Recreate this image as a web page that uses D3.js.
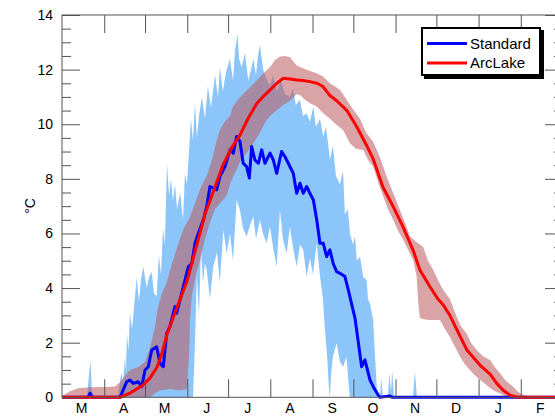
<!DOCTYPE html>
<html>
<head>
<meta charset="utf-8">
<script src="https://cdn.jsdelivr.net/npm/d3@7"></script>
<style>
html,body{margin:0;padding:0;background:#fff;}
svg{display:block;font-family:"Liberation Sans",Arial,Helvetica,sans-serif;}
</style>
</head>
<body>
<svg id="chart" width="555" height="418"></svg>
<script>
// ---- data (x in days since 1 March) ----
const monthLabels = ["M","A","M","J","J","A","S","O","N","D","J","F"];
const monthTickDays = [31,61,92,122,153,184,214,245,275,306,337];
const monthLabelDays = [14,45,75,106,136,167,198,228,259,289,320,351];
const yMajorTicks = [0,2,4,6,8,10,12,14];
const yMinorTicks = [0.5,1,1.5,2.5,3,3.5,4.5,5,5.5,6.5,7,7.5,8.5,9,9.5,10.5,11,11.5,12.5,13,13.5];
const seriesNames = ["Standard","ArcLake"];

const standardLine = [[0,0],[19.1,0],[20.6,0.15],[22,0],[42.6,0],[45,0.27],[47.5,0.57],[49.9,0.63],[52.4,0.51],[56,0.57],[58.5,0.39],[61,1.0],[63.4,1.12],[65.9,1.73],[69.5,1.85],[72,1.25],[74.4,1.12],[76.9,2.34],[79.3,2.59],[83,3.32],[84.2,3.08],[87.9,3.81],[92.8,4.78],[95.3,4.9],[97.7,5.64],[100.1,6.0],[103.8,6.5],[106.3,6.98],[108.7,7.72],[113.6,7.6],[116,8.08],[119.7,8.45],[123.4,9.06],[125.8,8.94],[128.3,9.55],[130.7,9.37],[133.1,8.57],[135.6,8.45],[137.6,8.03],[139.3,9.18],[141.7,8.69],[144.2,8.57],[146.7,9.06],[149.1,8.57],[152.8,8.94],[155.2,8.69],[157.7,8.2],[161.3,9.0],[163.8,8.81],[166.2,8.57],[169.9,8.2],[172.4,7.47],[174.8,7.84],[177.2,7.47],[179.7,7.72],[182.1,7.47],[184.6,7.23],[187.1,6.5],[189.5,5.64],[191.9,5.64],[194.4,5.15],[196.8,5.4],[199.2,4.9],[201.7,4.6],[204.2,4.54],[207.8,4.42],[210.3,3.93],[212.8,3.4],[215.2,2.9],[216.4,2.47],[220.1,1.12],[222.5,1.37],[226.2,0.64],[228.6,0.39],[232.3,0.08],[233.5,0],[240.9,0.05],[242.4,0],[368,0]];

const arcLakeLine = [[0,0],[42.6,0],[49.9,0.15],[59.5,0.45],[64.6,0.7],[69.8,1.1],[73.4,1.6],[77.1,2.3],[83,3.1],[91.8,4.25],[99.1,5.6],[105,6.7],[108.7,7.2],[113.1,7.8],[118.2,8.5],[124.1,9.1],[130.7,9.6],[136.6,10.2],[143.2,10.77],[147.6,11.0],[152.8,11.26],[157.9,11.5],[162.3,11.68],[167.4,11.66],[172.6,11.62],[177,11.6],[182.1,11.56],[187.3,11.5],[191.7,11.38],[196.8,11.05],[202,10.85],[209.3,10.5],[216.6,9.9],[224,9.2],[228.4,8.75],[235.7,7.7],[243.1,7.0],[250.4,6.25],[257.8,5.4],[262.9,4.66],[270.3,4.05],[276.1,3.6],[279.8,3.4],[284.9,3.0],[290.8,2.4],[297.4,1.73],[307,1.18],[314.4,0.85],[319.5,0.5],[323.9,0.27],[329,0.08],[334.2,0],[368,0]];

const standardUpper = [[0,0],[18.4,0],[19.8,0.8],[20.9,1.35],[22,0.2],[24.2,0],[41.1,0],[42.6,0.6],[43.8,0.9],[44.8,0.5],[46.3,1.5],[47,0.9],[47.7,2.35],[48.8,1.7],[49.9,3.1],[51.4,2.5],[52.9,3.3],[54.9,4.4],[56.5,3.5],[58,4.3],[59.7,4.8],[62.2,4.0],[63.9,4.4],[65.9,4.6],[67.6,3.8],[69.5,3.7],[71.2,5.2],[72.7,4.5],[74.2,6.2],[75.6,5.6],[77.1,8.6],[78.6,7.4],[80,8.0],[81.5,7.2],[83,7.8],[84.5,6.9],[86.7,7.5],[88.9,6.5],[90.3,8.2],[91.8,7.8],[93.3,9.0],[94.7,10.2],[96.2,9.4],[97.7,10.8],[99.1,9.5],[100.6,10.3],[102.8,11.0],[105,10.2],[107.2,11.4],[109.4,10.6],[112.4,11.8],[114.6,11.0],[116,12.1],[118.2,11.2],[120.4,11.9],[123.4,12.4],[125.6,11.6],[127.1,12.7],[129,13.3],[130,12.4],[132,12.1],[134.4,12.6],[136.8,11.6],[138.8,12.0],[140.5,12.4],[142.5,11.8],[143.9,12.5],[145.4,12.9],[147.8,12.0],[149.8,11.7],[152.8,11.4],[155,11.8],[157.9,11.2],[160.8,11.6],[163.8,11.1],[167.4,11.0],[169.6,11.3],[171.8,10.7],[174.8,10.9],[177,10.3],[179.7,10.4],[182.1,10.1],[184.6,10.65],[186.5,9.9],[189.5,10.2],[191.9,9.55],[193.9,9.9],[196.8,8.7],[199,9.2],[201.2,8.1],[204.2,7.8],[206.4,8.3],[207.8,6.7],[210,6.9],[211.5,6.0],[213.7,5.6],[215.2,5.9],[216.6,5.0],[218.9,5.15],[221.3,4.4],[223.8,4.3],[224.7,3.6],[226.2,3.44],[228.6,2.8],[229.9,1.5],[231.3,0.3],[232.1,0],[233.5,0],[234.6,0.7],[235.7,0],[239.4,0],[240.5,0.9],[241.6,0.2],[242.6,0.95],[243.8,0],[257.8,0],[259.2,0.95],[260.7,0],[368,0]];

const standardLower = [[0,0],[96.2,0],[97.7,2.0],[99.1,4.5],[100.6,3.0],[102.1,5.5],[103.5,4.2],[105,4.9],[106.3,4.66],[108.7,3.6],[111.1,4.78],[113.8,5.3],[116,4.2],[118.5,6.13],[121,5.27],[123.4,6.0],[125.6,5.0],[128.3,7.23],[130.7,6.86],[132.9,6.2],[135.6,5.89],[138.1,6.3],[140.5,6.62],[142.5,5.8],[145.4,6.5],[147.6,6.0],[150.3,5.64],[152.8,6.25],[155,5.5],[157.7,4.78],[160.1,6.86],[162.3,5.8],[165,5.27],[167.4,6.25],[169.6,5.5],[172.4,4.78],[174.8,5.6],[177.2,5.4],[179.7,4.42],[182.1,5.1],[184.3,4.5],[187.1,5.64],[189.5,4.42],[191.7,3.6],[193.1,2.5],[194.6,1.6],[196.1,0.3],[196.8,0],[197.6,0.8],[199,1.5],[201.7,1.98],[204.2,1.3],[206.5,1.12],[209,1.49],[210.7,0.4],[211.5,0],[368,0]];

const arcLakeUpper = [[0,0.05],[5.9,0.22],[11.8,0.33],[20.6,0.37],[31.6,0.38],[38.9,0.4],[42.6,0.55],[46.3,0.8],[49.9,1.0],[55.8,1.1],[61,1.3],[64.6,1.8],[68.3,2.6],[70.5,3.3],[73.4,3.8],[76.9,4.2],[80.8,4.9],[85.2,5.6],[89.6,6.2],[94,6.6],[98.4,7.2],[102.1,7.7],[106.3,8.1],[110.2,8.7],[113.1,9.3],[116,9.8],[119.7,10.1],[123.4,10.3],[125.6,10.65],[129.3,10.9],[132.9,11.1],[138.1,11.35],[143,11.6],[147.6,11.85],[152.8,12.1],[156.5,12.35],[160.1,12.48],[163.8,12.5],[167.4,12.45],[172.4,12.15],[177,12.05],[182.1,11.95],[187.1,11.87],[191.7,11.75],[196.8,11.5],[204.2,11.26],[209.1,10.9],[213.7,10.55],[218.9,10.2],[223.3,9.7],[228.6,9.35],[233.5,8.8],[238.5,8.08],[243.1,7.5],[248.2,6.86],[251.9,6.4],[255.6,5.9],[260,5.7],[265.3,5.5],[268.8,5.0],[272.7,4.66],[276.1,4.3],[280,3.93],[284.9,3.6],[289.9,2.95],[293,2.6],[297.2,2.34],[300.4,2.0],[304.6,1.73],[309.2,1.5],[314.4,1.37],[318,1.1],[321.7,0.88],[326.1,0.6],[331.4,0.39],[334.9,0.2],[338.8,0.08],[343.8,0.03],[348.1,0],[368,0]];

const arcLakeLower = [[0,0],[64.6,0],[68.3,0.15],[72,0.25],[79.3,0.3],[86.7,0.25],[91.8,0.3],[93.3,1.5],[94,2.8],[95.3,3.7],[98.9,4.6],[101.3,5.0],[105,5.8],[108.7,6.4],[112.4,6.9],[116,7.1],[121,7.4],[124.1,7.9],[128.3,8.35],[131.5,8.7],[135.6,8.95],[140.5,9.3],[145.4,9.7],[150.3,10.16],[155,10.4],[160.1,10.6],[163.8,10.75],[167.4,10.85],[172.4,11.1],[174.8,11.07],[178.5,10.9],[182.1,10.77],[187.1,10.65],[191.9,10.4],[196.8,10.2],[201.2,10.0],[206.5,9.79],[211.5,9.3],[215.9,9.1],[221.3,9.06],[224.7,8.7],[228.6,8.45],[232.1,7.9],[236,7.35],[239.4,6.9],[243.3,6.5],[246.8,6.1],[250.7,5.76],[254.2,5.4],[258,5.03],[260.5,4.42],[261.7,3.44],[262.9,2.9],[266.6,2.85],[270.3,2.83],[277.6,2.83],[281.3,2.5],[284.9,2.22],[288.6,1.85],[292.3,1.49],[296,1.2],[299.6,1.0],[303.3,0.8],[307,0.64],[310.7,0.5],[314.4,0.34],[318,0.22],[321.7,0.15],[326.6,0],[368,0]];

// ---- drawing ----
const svg = d3.select("#chart");
const padL = 62, padR = 563, padT = 15, padB = 397.3;
const x = d3.scaleLinear().domain([0, 368]).range([padL, padR]);
const y = d3.scaleLinear().domain([0, 14]).range([padB, padT]);
const axisColor = "#555";

const line = d3.line().x(d => x(d[0])).y(d => y(d[1]));
const band = (up, lo) => line(up.concat(lo.slice().reverse())) + "Z";

const plot = svg.append("g");
plot.append("path").attr("d", band(standardUpper, standardLower))
  .attr("fill", "#8cc5fa").attr("stroke", "none");
plot.append("path").attr("d", band(arcLakeUpper, arcLakeLower))
  .attr("fill", "rgb(188,90,92)").attr("fill-opacity", 0.55).attr("stroke", "none");
plot.append("path").attr("d", line(standardLine))
  .attr("fill", "none").attr("stroke", "#0000ff").attr("stroke-width", 3).attr("stroke-linejoin", "round");
plot.append("path").attr("d", line(arcLakeLine))
  .attr("fill", "none").attr("stroke", "#ff0000").attr("stroke-width", 3).attr("stroke-linejoin", "round");

function styleAxis(g) {
  g.select(".domain").remove();
  g.selectAll(".tick line").attr("stroke", axisColor).attr("stroke-width", 1);
  g.selectAll("text").attr("fill", "#000").attr("font-size", 14)
    .attr("font-family", '"Liberation Sans",Arial,Helvetica,sans-serif');
}

// y axes
svg.append("g").attr("transform", `translate(${padL},0)`)
  .call(d3.axisLeft(y).tickValues(yMajorTicks).tickSize(-18).tickPadding(9).tickFormat(d3.format("d")))
  .call(styleAxis);
svg.append("g").attr("transform", `translate(${padL},0)`)
  .call(d3.axisLeft(y).tickValues(yMinorTicks).tickSize(-9).tickFormat(""))
  .call(styleAxis);
svg.append("g").attr("transform", `translate(${padR},0)`)
  .call(d3.axisRight(y).tickValues(yMajorTicks).tickSize(-18).tickFormat(""))
  .call(styleAxis);
svg.append("g").attr("transform", `translate(${padR},0)`)
  .call(d3.axisRight(y).tickValues(yMinorTicks).tickSize(-9).tickFormat(""))
  .call(styleAxis);

// x axes
svg.append("g").attr("transform", `translate(0,${padB})`)
  .call(d3.axisBottom(x).tickValues(monthTickDays).tickSize(-18).tickFormat(""))
  .call(styleAxis);
svg.append("g").attr("transform", `translate(0,${padT})`)
  .call(d3.axisTop(x).tickValues(monthTickDays).tickSize(-18).tickFormat(""))
  .call(styleAxis);
svg.append("g").attr("transform", `translate(0,${padB})`)
  .call(d3.axisBottom(x).tickValues(monthLabelDays).tickSize(0).tickPadding(6)
    .tickFormat((d, i) => monthLabels[i]))
  .call(styleAxis);

// frame
svg.append("rect").attr("x", padL).attr("y", padT)
  .attr("width", padR - padL).attr("height", padB - padT)
  .attr("fill", "none").attr("stroke", axisColor).attr("stroke-width", 1);

// y label
svg.append("text").attr("transform", "translate(35,206) rotate(-90)")
  .attr("text-anchor", "middle").attr("font-size", 14).text("°C");

// legend
const lg = svg.append("g").attr("transform", "translate(422,28)");
lg.append("rect").attr("x", 2).attr("y", 2).attr("width", 120).attr("height", 49).attr("fill", "#000");
lg.append("rect").attr("x", 0).attr("y", 0).attr("width", 118).attr("height", 47)
  .attr("fill", "#fff").attr("stroke", "#000").attr("stroke-width", 2);
const legendColors = ["#0000ff", "#ff0000"];
seriesNames.forEach((name, i) => {
  const yy = 15.5 + i * 19.5;
  lg.append("line").attr("x1", 5).attr("x2", 45).attr("y1", yy).attr("y2", yy)
    .attr("stroke", legendColors[i]).attr("stroke-width", 3);
  lg.append("text").attr("x", 48).attr("y", yy + 5).attr("font-size", 15).text(name);
});
</script>
</body>
</html>
